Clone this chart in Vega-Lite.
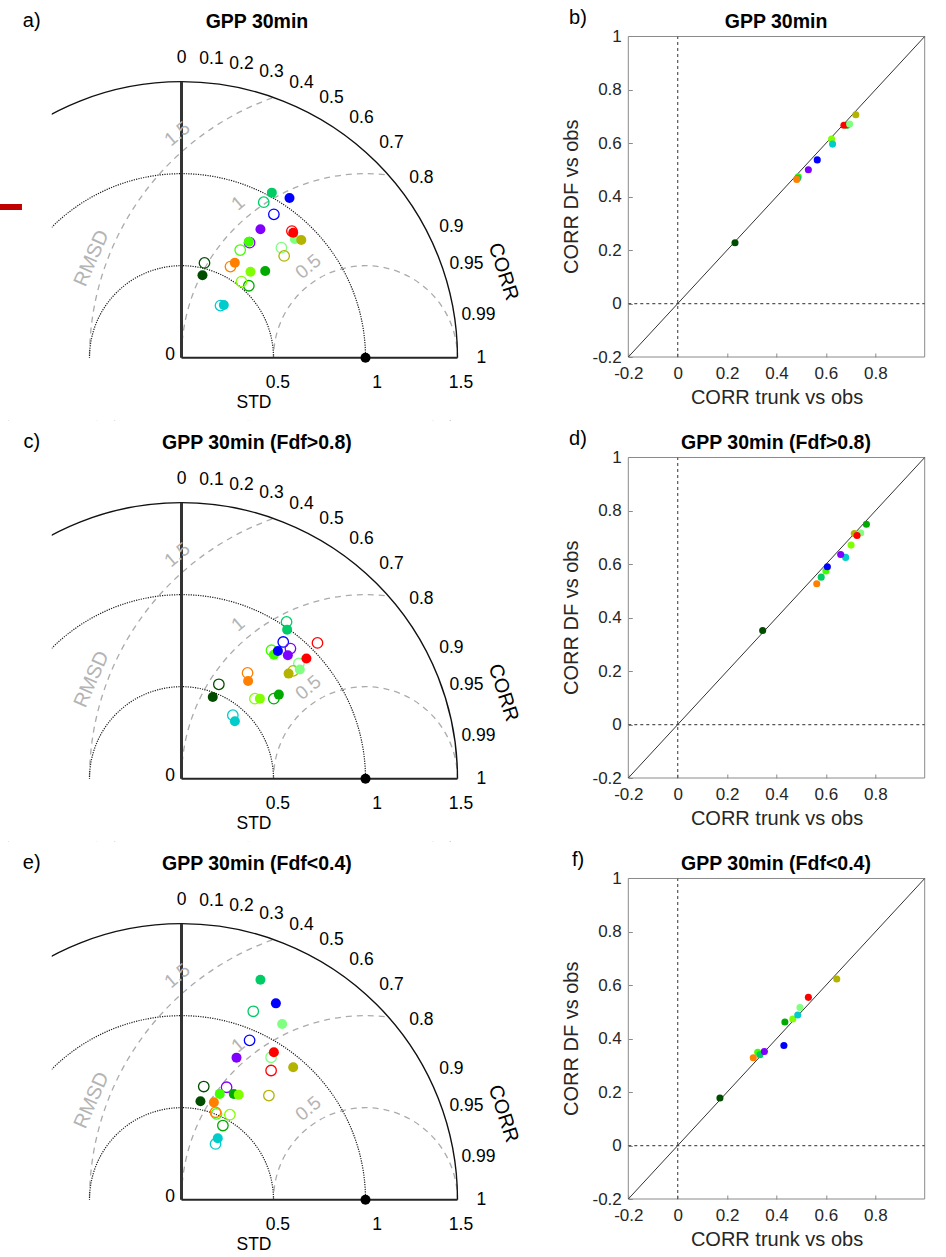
{
"$schema": "https://vega.github.io/schema/vega-lite/v6.json",
"padding": 0,
"bounds": "flush",
"align": "each",
"columns": 2,
"spacing": {"row": 0, "column": 68.3},
"datasets": {
"c_rmsd": [{"x":1,"y":0,"r":0.5},{"x":1,"y":0,"r":1},{"x":1,"y":0,"r":1.5}],
"c_ring": [{"x":0,"y":0,"r":2.1}],
"c_stddot": [{"x":0,"y":0,"r":0.5},{"x":0,"y":0,"r":1}],
"c_stdsolid": [{"x":0,"y":0,"r":1.5}],
"t_masks": [{"x":-1,"x2":2.1,"y":-0.4,"y2":0},{"x":-1,"x2":-0.705,"y":0,"y2":2}],
"t_vaxis": [{"x":0,"y":0,"y2":1.5}],
"t_haxis": [{"x":0,"x2":1.5,"y":0}],
"t_obs": [{"x":1,"y":0}],
"t_corr": [{"t":"0","x":0,"y":1.63},{"t":"0.1","x":0.163,"y":1.6218},{"t":"0.2","x":0.326,"y":1.5971},{"t":"0.3","x":0.489,"y":1.5549},{"t":"0.4","x":0.652,"y":1.4939},{"t":"0.5","x":0.815,"y":1.4116},{"t":"0.6","x":0.978,"y":1.304},{"t":"0.7","x":1.141,"y":1.1641},{"t":"0.8","x":1.304,"y":0.978},{"t":"0.9","x":1.467,"y":0.7105},{"t":"0.95","x":1.5485,"y":0.509},{"t":"0.99","x":1.6137,"y":0.2299},{"t":"1","x":1.63,"y":0}],
"t_std": [{"t":"0","x":-0.0625,"y":0.0147},{"t":"0.5","x":0.524,"y":-0.1375},{"t":"1","x":1.0625,"y":-0.1375},{"t":"1.5","x":1.519,"y":-0.1375},{"t":"STD","x":0.394,"y":-0.249}],
"t_corrtitle": [{"t":"CORR","x":1.749,"y":0.467}],
"t_rmsd": [{"t":"RMSD","x":-0.488,"y":0.54}],
"t_rmsdvals": [{"t":"1.5","x":-0.023,"y":1.216},{"t":"1","x":0.308,"y":0.839},{"t":"0.5","x":0.689,"y":0.495}],
"red": [{"x":-1,"x2":-0.867,"y":0.803,"y2":0.835}],
"s_frame": [{"x":-0.2,"x2":1,"y":-0.2,"y2":1}],
"s_vzero": [{"x":0,"y":-0.2,"y2":1}],
"s_hzero": [{"x":-0.2,"x2":1,"y":0}],
"s_diag": [{"x":-0.2,"x2":1,"y":-0.2,"y2":1}],
"s_ytitle": [{"t":"CORR DF vs obs","x":-0.428,"y":0.4}],
"pa": [
{"s":"S1","f":"open","x":0.125,"y":0.515},{"s":"S2","f":"open","x":0.366,"y":0.391},{"s":"S3","f":"open","x":0.326,"y":0.413},{"s":"S4","f":"open","x":0.319,"y":0.585},{"s":"S5","f":"open","x":0.543,"y":0.598},{"s":"S6","f":"open","x":0.447,"y":0.845},{"s":"S7","f":"open","x":0.212,"y":0.283},{"s":"S8","f":"open","x":0.502,"y":0.779},{"s":"S9","f":"open","x":0.370,"y":0.625},{"s":"S10","f":"open","x":0.600,"y":0.688},{"s":"S11","f":"open","x":0.266,"y":0.495},{"s":"S12","f":"open","x":0.558,"y":0.553},
{"s":"S1","f":"filled","x":0.114,"y":0.448},{"s":"S2","f":"filled","x":0.455,"y":0.471},{"s":"S3","f":"filled","x":0.375,"y":0.467},{"s":"S4","f":"filled","x":0.366,"y":0.630},{"s":"S5","f":"filled","x":0.616,"y":0.645},{"s":"S6","f":"filled","x":0.491,"y":0.897},{"s":"S7","f":"filled","x":0.230,"y":0.286},{"s":"S8","f":"filled","x":0.587,"y":0.868},{"s":"S9","f":"filled","x":0.429,"y":0.698},{"s":"S10","f":"filled","x":0.607,"y":0.679},{"s":"S11","f":"filled","x":0.290,"y":0.516},{"s":"S12","f":"filled","x":0.651,"y":0.640}],
"pc": [
{"s":"S1","f":"open","x":0.203,"y":0.513},{"s":"S2","f":"open","x":0.502,"y":0.435},{"s":"S3","f":"open","x":0.399,"y":0.435},{"s":"S4","f":"open","x":0.489,"y":0.698},{"s":"S5","f":"open","x":0.638,"y":0.626},{"s":"S6","f":"open","x":0.571,"y":0.852},{"s":"S7","f":"open","x":0.279,"y":0.345},{"s":"S8","f":"open","x":0.553,"y":0.743},{"s":"S9","f":"open","x":0.592,"y":0.707},{"s":"S10","f":"open","x":0.739,"y":0.738},{"s":"S11","f":"open","x":0.359,"y":0.575},{"s":"S12","f":"open","x":0.607,"y":0.586},
{"s":"S1","f":"filled","x":0.170,"y":0.444},{"s":"S2","f":"filled","x":0.529,"y":0.457},{"s":"S3","f":"filled","x":0.426,"y":0.435},{"s":"S4","f":"filled","x":0.502,"y":0.674},{"s":"S5","f":"filled","x":0.643,"y":0.593},{"s":"S6","f":"filled","x":0.574,"y":0.810},{"s":"S7","f":"filled","x":0.290,"y":0.312},{"s":"S8","f":"filled","x":0.524,"y":0.694},{"s":"S9","f":"filled","x":0.578,"y":0.671},{"s":"S10","f":"filled","x":0.679,"y":0.653},{"s":"S11","f":"filled","x":0.362,"y":0.531},{"s":"S12","f":"filled","x":0.582,"y":0.571}],
"pe": [
{"s":"S1","f":"open","x":0.121,"y":0.615},{"s":"S2","f":"open","x":0.225,"y":0.403},{"s":"S3","f":"open","x":0.263,"y":0.462},{"s":"S4","f":"open","x":0.190,"y":0.466},{"s":"S5","f":"open","x":0.487,"y":0.774},{"s":"S6","f":"open","x":0.390,"y":1.024},{"s":"S7","f":"open","x":0.185,"y":0.303},{"s":"S8","f":"open","x":0.370,"y":0.866},{"s":"S9","f":"open","x":0.245,"y":0.611},{"s":"S10","f":"open","x":0.487,"y":0.702},{"s":"S11","f":"open","x":0.185,"y":0.475},{"s":"S12","f":"open","x":0.475,"y":0.566},
{"s":"S1","f":"filled","x":0.103,"y":0.535},{"s":"S2","f":"filled","x":0.284,"y":0.575},{"s":"S3","f":"filled","x":0.311,"y":0.570},{"s":"S4","f":"filled","x":0.208,"y":0.575},{"s":"S5","f":"filled","x":0.547,"y":0.955},{"s":"S6","f":"filled","x":0.429,"y":1.195},{"s":"S7","f":"filled","x":0.197,"y":0.334},{"s":"S8","f":"filled","x":0.513,"y":1.067},{"s":"S9","f":"filled","x":0.299,"y":0.772},{"s":"S10","f":"filled","x":0.502,"y":0.801},{"s":"S11","f":"filled","x":0.176,"y":0.529},{"s":"S12","f":"filled","x":0.607,"y":0.720}],
"sb": [{"s":"S1","x":0.232,"y":0.228},{"s":"S2","x":0.685,"y":0.668},{"s":"S3","x":0.623,"y":0.616},{"s":"S4","x":0.488,"y":0.475},{"s":"S6","x":0.486,"y":0.47},{"s":"S7","x":0.627,"y":0.597},{"s":"S8","x":0.565,"y":0.538},{"s":"S9","x":0.529,"y":0.501},{"s":"S10","x":0.673,"y":0.668},{"s":"S5","x":0.696,"y":0.672},{"s":"S11","x":0.482,"y":0.465},{"s":"S12","x":0.721,"y":0.707}],
"sd": [{"s":"S1","x":0.344,"y":0.352},{"s":"S2","x":0.764,"y":0.750},{"s":"S3","x":0.702,"y":0.672},{"s":"S4","x":0.600,"y":0.575},{"s":"S5","x":0.741,"y":0.717},{"s":"S6","x":0.581,"y":0.552},{"s":"S7","x":0.680,"y":0.626},{"s":"S8","x":0.606,"y":0.591},{"s":"S9","x":0.660,"y":0.637},{"s":"S12","x":0.715,"y":0.715},{"s":"S10","x":0.726,"y":0.708},{"s":"S11","x":0.563,"y":0.527}],
"sf": [{"s":"S1","x":0.171,"y":0.178},{"s":"S2","x":0.434,"y":0.463},{"s":"S3","x":0.466,"y":0.474},{"s":"S4","x":0.324,"y":0.349},{"s":"S5","x":0.495,"y":0.517},{"s":"S6","x":0.333,"y":0.340},{"s":"S7","x":0.486,"y":0.489},{"s":"S8","x":0.430,"y":0.375},{"s":"S9","x":0.351,"y":0.352},{"s":"S10","x":0.529,"y":0.555},{"s":"S11","x":0.306,"y":0.329},{"s":"S12","x":0.644,"y":0.624}]
},
"concat": [
{
"width": 560, "height": 420.67,
"encoding": {
"x": {"field":"x","type":"quantitative","scale":{"domain":[-0.98641,2.05707],"nice":false,"zero":false},"axis":null},
"y": {"field":"y","type":"quantitative","scale":{"domain":[-0.34239,1.94402],"nice":false,"zero":false},"axis":null}
},
"layer": [
{"data":{"name":"c_rmsd"},"mark":{"type":"point","shape":"circle","filled":false,"stroke":"#ababab","strokeWidth":1.3,"strokeDash":[6,5],"opacity":1,"clip":true},"encoding":{"size":{"field":"r","type":"quantitative","scale":{"type":"pow","exponent":2,"domain":[0,3],"range":[0,1218816],"zero":true,"nice":false},"legend":null}}},
{"data":{"name":"c_ring"},"mark":{"type":"point","shape":"circle","filled":false,"stroke":"#ffffff","strokeWidth":220.8,"opacity":1,"clip":true},"encoding":{"size":{"field":"r","type":"quantitative","scale":{"type":"pow","exponent":2,"domain":[0,3],"range":[0,1218816],"zero":true,"nice":false},"legend":null}}},
{"data":{"name":"c_stddot"},"mark":{"type":"point","shape":"circle","filled":false,"stroke":"#1a1a1a","strokeWidth":1.2,"strokeDash":[1.2,1.2],"opacity":1,"clip":true},"encoding":{"size":{"field":"r","type":"quantitative","scale":{"type":"pow","exponent":2,"domain":[0,3],"range":[0,1218816],"zero":true,"nice":false},"legend":null}}},
{"data":{"name":"c_stdsolid"},"mark":{"type":"point","shape":"circle","filled":false,"stroke":"#111111","strokeWidth":1.4,"opacity":1,"clip":true},"encoding":{"size":{"field":"r","type":"quantitative","scale":{"type":"pow","exponent":2,"domain":[0,3],"range":[0,1218816],"zero":true,"nice":false},"legend":null}}},
{"data":{"name":"t_masks"},"mark":{"type":"rect","fill":"#ffffff","clip":true},"encoding":{"x2":{"field":"x2"},"y2":{"field":"y2"}}},
{"data":{"name":"t_vaxis"},"mark":{"type":"rule","stroke":"#333333","strokeWidth":3},"encoding":{"y2":{"field":"y2"}}},
{"data":{"name":"t_haxis"},"mark":{"type":"rule","stroke":"#262626","strokeWidth":2},"encoding":{"x2":{"field":"x2"}}},
{"data":{"name":"t_obs"},"mark":{"type":"point","shape":"circle","filled":true,"fill":"#000000","size":100,"opacity":1}},
{"data":{"name":"pa"},"transform":[{"filter":"datum.f == 'open'"}],"mark":{"type":"point","shape":"circle","filled":false,"strokeWidth":1.3,"size":110,"opacity":1},"encoding":{"color":{"field":"s","type":"nominal","scale":{"domain":["S1","S2","S3","S4","S5","S6","S7","S8","S9","S10","S11","S12"],"range":["#004d00","#00aa00","#80ff00","#40ff00","#80ff80","#00cc66","#00cccc","#0000ff","#8000ff","#ff0000","#ff8000","#b3b300"]},"legend":null}}},
{"data":{"name":"pa"},"transform":[{"filter":"datum.f == 'filled'"}],"mark":{"type":"point","shape":"circle","filled":true,"size":100,"opacity":1},"encoding":{"color":{"field":"s","type":"nominal","scale":{"domain":["S1","S2","S3","S4","S5","S6","S7","S8","S9","S10","S11","S12"],"range":["#004d00","#00aa00","#80ff00","#40ff00","#80ff80","#00cc66","#00cccc","#0000ff","#8000ff","#ff0000","#ff8000","#b3b300"]},"legend":null}}},
{"data":{"name":"t_corr"},"mark":{"type":"text","fontSize":17.5,"align":"center","baseline":"middle","color":"#000000"},"encoding":{"text":{"field":"t","type":"nominal"}}},
{"data":{"name":"t_std"},"mark":{"type":"text","fontSize":17.5,"align":"center","baseline":"middle","color":"#000000"},"encoding":{"text":{"field":"t","type":"nominal"}}},
{"data":{"name":"t_corrtitle"},"mark":{"type":"text","fontSize":20,"align":"center","baseline":"middle","angle":72,"color":"#000000"},"encoding":{"text":{"field":"t","type":"nominal"}}},
{"data":{"name":"t_rmsd"},"mark":{"type":"text","fontSize":20,"align":"center","baseline":"middle","angle":294,"color":"#b4b4b4"},"encoding":{"text":{"field":"t","type":"nominal"}}},
{"data":{"name":"t_rmsdvals"},"mark":{"type":"text","fontSize":19,"align":"center","baseline":"middle","angle":320,"color":"#b4b4b4"},"encoding":{"text":{"field":"t","type":"nominal"}}},
{"data":{"name":"red"},"mark":{"type":"rect","fill":"#c00000","clip":true},"encoding":{"x2":{"field":"x2"},"y2":{"field":"y2"}}},
{"data":{"values":[{"t":"GPP 30min","x":0.41,"y":1.8245}]},"mark":{"type":"text","fontSize":19.5,"fontWeight":"bold","align":"center","baseline":"middle","color":"#000000"},"encoding":{"text":{"field":"t","type":"nominal"}}},
{"data":{"values":[{"t":"a)","x":-0.814,"y":1.83}]},"mark":{"type":"text","fontSize":20,"align":"center","baseline":"middle","color":"#000000"},"encoding":{"text":{"field":"t","type":"nominal"}}}
]
},
{
"width": 296.4, "height": 357,
"encoding": {
"x": {"field":"x","type":"quantitative","scale":{"domain":[-0.2,1.0],"nice":false,"zero":false},"axis":{"values":[-0.2,0,0.2,0.4,0.6,0.8],"format":"~g","title":"CORR trunk vs obs","domain":false,"grid":false,"ticks":true,"tickSize":-4,"tickColor":"#8a8a8a","labelFlush":false,"labelOverlap":false,"labelFontSize":17,"labelColor":"#262626","labelPadding":12,"titleFontSize":20,"titleFontWeight":"normal","titleColor":"#262626","titlePadding":6}},
"y": {"field":"y","type":"quantitative","scale":{"domain":[-0.2,1.1366],"nice":false,"zero":false},"axis":{"values":[-0.2,0,0.2,0.4,0.6,0.8,1],"format":"~g","title":null,"domain":false,"grid":false,"ticks":true,"tickSize":-4,"tickColor":"#8a8a8a","labelFlush":false,"labelOverlap":false,"labelFontSize":17,"labelColor":"#262626","labelPadding":11}}
},
"layer": [
{"data":{"name":"s_frame"},"mark":{"type":"rect","fill":"transparent","fillOpacity":0,"stroke":"#8a8a8a","strokeWidth":1},"encoding":{"x2":{"field":"x2"},"y2":{"field":"y2"}}},
{"data":{"name":"s_vzero"},"mark":{"type":"rule","stroke":"#555555","strokeWidth":1.2,"strokeDash":[3,3]},"encoding":{"y2":{"field":"y2"}}},
{"data":{"name":"s_hzero"},"mark":{"type":"rule","stroke":"#555555","strokeWidth":1.2,"strokeDash":[3,3]},"encoding":{"x2":{"field":"x2"}}},
{"data":{"name":"s_diag"},"mark":{"type":"rule","stroke":"#333333","strokeWidth":1},"encoding":{"x2":{"field":"x2"},"y2":{"field":"y2"}}},
{"data":{"name":"sb"},"mark":{"type":"point","shape":"circle","filled":true,"size":50,"opacity":1},"encoding":{"color":{"field":"s","type":"nominal","scale":{"domain":["S1","S2","S3","S4","S5","S6","S7","S8","S9","S10","S11","S12"],"range":["#004d00","#00aa00","#80ff00","#40ff00","#80ff80","#00cc66","#00cccc","#0000ff","#8000ff","#ff0000","#ff8000","#b3b300"]},"legend":null}}},
{"data":{"name":"s_ytitle"},"mark":{"type":"text","fontSize":20,"align":"center","baseline":"middle","angle":270,"color":"#262626"},"encoding":{"text":{"field":"t","type":"nominal"}}},
{"data":{"values":[{"t":"GPP 30min","x":0.398,"y":1.0542}]},"mark":{"type":"text","fontSize":19.5,"fontWeight":"bold","align":"center","baseline":"middle","color":"#000000"},"encoding":{"text":{"field":"t","type":"nominal"}}},
{"data":{"values":[{"t":"b)","x":-0.4036,"y":1.0692}]},"mark":{"type":"text","fontSize":20,"align":"center","baseline":"middle","color":"#000000"},"encoding":{"text":{"field":"t","type":"nominal"}}}
]
},
{
"width": 560, "height": 420.67,
"encoding": {
"x": {"field":"x","type":"quantitative","scale":{"domain":[-0.98641,2.05707],"nice":false,"zero":false},"axis":null},
"y": {"field":"y","type":"quantitative","scale":{"domain":[-0.34239,1.94402],"nice":false,"zero":false},"axis":null}
},
"layer": [
{"data":{"name":"c_rmsd"},"mark":{"type":"point","shape":"circle","filled":false,"stroke":"#ababab","strokeWidth":1.3,"strokeDash":[6,5],"opacity":1,"clip":true},"encoding":{"size":{"field":"r","type":"quantitative","scale":{"type":"pow","exponent":2,"domain":[0,3],"range":[0,1218816],"zero":true,"nice":false},"legend":null}}},
{"data":{"name":"c_ring"},"mark":{"type":"point","shape":"circle","filled":false,"stroke":"#ffffff","strokeWidth":220.8,"opacity":1,"clip":true},"encoding":{"size":{"field":"r","type":"quantitative","scale":{"type":"pow","exponent":2,"domain":[0,3],"range":[0,1218816],"zero":true,"nice":false},"legend":null}}},
{"data":{"name":"c_stddot"},"mark":{"type":"point","shape":"circle","filled":false,"stroke":"#1a1a1a","strokeWidth":1.2,"strokeDash":[1.2,1.2],"opacity":1,"clip":true},"encoding":{"size":{"field":"r","type":"quantitative","scale":{"type":"pow","exponent":2,"domain":[0,3],"range":[0,1218816],"zero":true,"nice":false},"legend":null}}},
{"data":{"name":"c_stdsolid"},"mark":{"type":"point","shape":"circle","filled":false,"stroke":"#111111","strokeWidth":1.4,"opacity":1,"clip":true},"encoding":{"size":{"field":"r","type":"quantitative","scale":{"type":"pow","exponent":2,"domain":[0,3],"range":[0,1218816],"zero":true,"nice":false},"legend":null}}},
{"data":{"name":"t_masks"},"mark":{"type":"rect","fill":"#ffffff","clip":true},"encoding":{"x2":{"field":"x2"},"y2":{"field":"y2"}}},
{"data":{"name":"t_vaxis"},"mark":{"type":"rule","stroke":"#333333","strokeWidth":3},"encoding":{"y2":{"field":"y2"}}},
{"data":{"name":"t_haxis"},"mark":{"type":"rule","stroke":"#262626","strokeWidth":2},"encoding":{"x2":{"field":"x2"}}},
{"data":{"name":"t_obs"},"mark":{"type":"point","shape":"circle","filled":true,"fill":"#000000","size":100,"opacity":1}},
{"data":{"name":"pc"},"transform":[{"filter":"datum.f == 'open'"}],"mark":{"type":"point","shape":"circle","filled":false,"strokeWidth":1.3,"size":110,"opacity":1},"encoding":{"color":{"field":"s","type":"nominal","scale":{"domain":["S1","S2","S3","S4","S5","S6","S7","S8","S9","S10","S11","S12"],"range":["#004d00","#00aa00","#80ff00","#40ff00","#80ff80","#00cc66","#00cccc","#0000ff","#8000ff","#ff0000","#ff8000","#b3b300"]},"legend":null}}},
{"data":{"name":"pc"},"transform":[{"filter":"datum.f == 'filled'"}],"mark":{"type":"point","shape":"circle","filled":true,"size":100,"opacity":1},"encoding":{"color":{"field":"s","type":"nominal","scale":{"domain":["S1","S2","S3","S4","S5","S6","S7","S8","S9","S10","S11","S12"],"range":["#004d00","#00aa00","#80ff00","#40ff00","#80ff80","#00cc66","#00cccc","#0000ff","#8000ff","#ff0000","#ff8000","#b3b300"]},"legend":null}}},
{"data":{"name":"t_corr"},"mark":{"type":"text","fontSize":17.5,"align":"center","baseline":"middle","color":"#000000"},"encoding":{"text":{"field":"t","type":"nominal"}}},
{"data":{"name":"t_std"},"mark":{"type":"text","fontSize":17.5,"align":"center","baseline":"middle","color":"#000000"},"encoding":{"text":{"field":"t","type":"nominal"}}},
{"data":{"name":"t_corrtitle"},"mark":{"type":"text","fontSize":20,"align":"center","baseline":"middle","angle":72,"color":"#000000"},"encoding":{"text":{"field":"t","type":"nominal"}}},
{"data":{"name":"t_rmsd"},"mark":{"type":"text","fontSize":20,"align":"center","baseline":"middle","angle":294,"color":"#b4b4b4"},"encoding":{"text":{"field":"t","type":"nominal"}}},
{"data":{"name":"t_rmsdvals"},"mark":{"type":"text","fontSize":19,"align":"center","baseline":"middle","angle":320,"color":"#b4b4b4"},"encoding":{"text":{"field":"t","type":"nominal"}}},
{"data":{"values":[{"t":"GPP 30min (Fdf>0.8)","x":0.41,"y":1.8245}]},"mark":{"type":"text","fontSize":19.5,"fontWeight":"bold","align":"center","baseline":"middle","color":"#000000"},"encoding":{"text":{"field":"t","type":"nominal"}}},
{"data":{"values":[{"t":"c)","x":-0.814,"y":1.83}]},"mark":{"type":"text","fontSize":20,"align":"center","baseline":"middle","color":"#000000"},"encoding":{"text":{"field":"t","type":"nominal"}}}
]
},
{
"width": 296.4, "height": 357,
"encoding": {
"x": {"field":"x","type":"quantitative","scale":{"domain":[-0.2,1.0],"nice":false,"zero":false},"axis":{"values":[-0.2,0,0.2,0.4,0.6,0.8],"format":"~g","title":"CORR trunk vs obs","domain":false,"grid":false,"ticks":true,"tickSize":-4,"tickColor":"#8a8a8a","labelFlush":false,"labelOverlap":false,"labelFontSize":17,"labelColor":"#262626","labelPadding":12,"titleFontSize":20,"titleFontWeight":"normal","titleColor":"#262626","titlePadding":6}},
"y": {"field":"y","type":"quantitative","scale":{"domain":[-0.2,1.1366],"nice":false,"zero":false},"axis":{"values":[-0.2,0,0.2,0.4,0.6,0.8,1],"format":"~g","title":null,"domain":false,"grid":false,"ticks":true,"tickSize":-4,"tickColor":"#8a8a8a","labelFlush":false,"labelOverlap":false,"labelFontSize":17,"labelColor":"#262626","labelPadding":11}}
},
"layer": [
{"data":{"name":"s_frame"},"mark":{"type":"rect","fill":"transparent","fillOpacity":0,"stroke":"#8a8a8a","strokeWidth":1},"encoding":{"x2":{"field":"x2"},"y2":{"field":"y2"}}},
{"data":{"name":"s_vzero"},"mark":{"type":"rule","stroke":"#555555","strokeWidth":1.2,"strokeDash":[3,3]},"encoding":{"y2":{"field":"y2"}}},
{"data":{"name":"s_hzero"},"mark":{"type":"rule","stroke":"#555555","strokeWidth":1.2,"strokeDash":[3,3]},"encoding":{"x2":{"field":"x2"}}},
{"data":{"name":"s_diag"},"mark":{"type":"rule","stroke":"#333333","strokeWidth":1},"encoding":{"x2":{"field":"x2"},"y2":{"field":"y2"}}},
{"data":{"name":"sd"},"mark":{"type":"point","shape":"circle","filled":true,"size":50,"opacity":1},"encoding":{"color":{"field":"s","type":"nominal","scale":{"domain":["S1","S2","S3","S4","S5","S6","S7","S8","S9","S10","S11","S12"],"range":["#004d00","#00aa00","#80ff00","#40ff00","#80ff80","#00cc66","#00cccc","#0000ff","#8000ff","#ff0000","#ff8000","#b3b300"]},"legend":null}}},
{"data":{"name":"s_ytitle"},"mark":{"type":"text","fontSize":20,"align":"center","baseline":"middle","angle":270,"color":"#262626"},"encoding":{"text":{"field":"t","type":"nominal"}}},
{"data":{"values":[{"t":"GPP 30min (Fdf>0.8)","x":0.398,"y":1.0542}]},"mark":{"type":"text","fontSize":19.5,"fontWeight":"bold","align":"center","baseline":"middle","color":"#000000"},"encoding":{"text":{"field":"t","type":"nominal"}}},
{"data":{"values":[{"t":"d)","x":-0.4036,"y":1.0692}]},"mark":{"type":"text","fontSize":20,"align":"center","baseline":"middle","color":"#000000"},"encoding":{"text":{"field":"t","type":"nominal"}}}
]
},
{
"width": 560, "height": 420.67,
"encoding": {
"x": {"field":"x","type":"quantitative","scale":{"domain":[-0.98641,2.05707],"nice":false,"zero":false},"axis":null},
"y": {"field":"y","type":"quantitative","scale":{"domain":[-0.34239,1.94402],"nice":false,"zero":false},"axis":null}
},
"layer": [
{"data":{"name":"c_rmsd"},"mark":{"type":"point","shape":"circle","filled":false,"stroke":"#ababab","strokeWidth":1.3,"strokeDash":[6,5],"opacity":1,"clip":true},"encoding":{"size":{"field":"r","type":"quantitative","scale":{"type":"pow","exponent":2,"domain":[0,3],"range":[0,1218816],"zero":true,"nice":false},"legend":null}}},
{"data":{"name":"c_ring"},"mark":{"type":"point","shape":"circle","filled":false,"stroke":"#ffffff","strokeWidth":220.8,"opacity":1,"clip":true},"encoding":{"size":{"field":"r","type":"quantitative","scale":{"type":"pow","exponent":2,"domain":[0,3],"range":[0,1218816],"zero":true,"nice":false},"legend":null}}},
{"data":{"name":"c_stddot"},"mark":{"type":"point","shape":"circle","filled":false,"stroke":"#1a1a1a","strokeWidth":1.2,"strokeDash":[1.2,1.2],"opacity":1,"clip":true},"encoding":{"size":{"field":"r","type":"quantitative","scale":{"type":"pow","exponent":2,"domain":[0,3],"range":[0,1218816],"zero":true,"nice":false},"legend":null}}},
{"data":{"name":"c_stdsolid"},"mark":{"type":"point","shape":"circle","filled":false,"stroke":"#111111","strokeWidth":1.4,"opacity":1,"clip":true},"encoding":{"size":{"field":"r","type":"quantitative","scale":{"type":"pow","exponent":2,"domain":[0,3],"range":[0,1218816],"zero":true,"nice":false},"legend":null}}},
{"data":{"name":"t_masks"},"mark":{"type":"rect","fill":"#ffffff","clip":true},"encoding":{"x2":{"field":"x2"},"y2":{"field":"y2"}}},
{"data":{"name":"t_vaxis"},"mark":{"type":"rule","stroke":"#333333","strokeWidth":3},"encoding":{"y2":{"field":"y2"}}},
{"data":{"name":"t_haxis"},"mark":{"type":"rule","stroke":"#262626","strokeWidth":2},"encoding":{"x2":{"field":"x2"}}},
{"data":{"name":"t_obs"},"mark":{"type":"point","shape":"circle","filled":true,"fill":"#000000","size":100,"opacity":1}},
{"data":{"name":"pe"},"transform":[{"filter":"datum.f == 'open'"}],"mark":{"type":"point","shape":"circle","filled":false,"strokeWidth":1.3,"size":110,"opacity":1},"encoding":{"color":{"field":"s","type":"nominal","scale":{"domain":["S1","S2","S3","S4","S5","S6","S7","S8","S9","S10","S11","S12"],"range":["#004d00","#00aa00","#80ff00","#40ff00","#80ff80","#00cc66","#00cccc","#0000ff","#8000ff","#ff0000","#ff8000","#b3b300"]},"legend":null}}},
{"data":{"name":"pe"},"transform":[{"filter":"datum.f == 'filled'"}],"mark":{"type":"point","shape":"circle","filled":true,"size":100,"opacity":1},"encoding":{"color":{"field":"s","type":"nominal","scale":{"domain":["S1","S2","S3","S4","S5","S6","S7","S8","S9","S10","S11","S12"],"range":["#004d00","#00aa00","#80ff00","#40ff00","#80ff80","#00cc66","#00cccc","#0000ff","#8000ff","#ff0000","#ff8000","#b3b300"]},"legend":null}}},
{"data":{"name":"t_corr"},"mark":{"type":"text","fontSize":17.5,"align":"center","baseline":"middle","color":"#000000"},"encoding":{"text":{"field":"t","type":"nominal"}}},
{"data":{"name":"t_std"},"mark":{"type":"text","fontSize":17.5,"align":"center","baseline":"middle","color":"#000000"},"encoding":{"text":{"field":"t","type":"nominal"}}},
{"data":{"name":"t_corrtitle"},"mark":{"type":"text","fontSize":20,"align":"center","baseline":"middle","angle":72,"color":"#000000"},"encoding":{"text":{"field":"t","type":"nominal"}}},
{"data":{"name":"t_rmsd"},"mark":{"type":"text","fontSize":20,"align":"center","baseline":"middle","angle":294,"color":"#b4b4b4"},"encoding":{"text":{"field":"t","type":"nominal"}}},
{"data":{"name":"t_rmsdvals"},"mark":{"type":"text","fontSize":19,"align":"center","baseline":"middle","angle":320,"color":"#b4b4b4"},"encoding":{"text":{"field":"t","type":"nominal"}}},
{"data":{"values":[{"t":"GPP 30min (Fdf<0.4)","x":0.41,"y":1.8245}]},"mark":{"type":"text","fontSize":19.5,"fontWeight":"bold","align":"center","baseline":"middle","color":"#000000"},"encoding":{"text":{"field":"t","type":"nominal"}}},
{"data":{"values":[{"t":"e)","x":-0.814,"y":1.83}]},"mark":{"type":"text","fontSize":20,"align":"center","baseline":"middle","color":"#000000"},"encoding":{"text":{"field":"t","type":"nominal"}}}
]
},
{
"width": 296.4, "height": 357,
"encoding": {
"x": {"field":"x","type":"quantitative","scale":{"domain":[-0.2,1.0],"nice":false,"zero":false},"axis":{"values":[-0.2,0,0.2,0.4,0.6,0.8],"format":"~g","title":"CORR trunk vs obs","domain":false,"grid":false,"ticks":true,"tickSize":-4,"tickColor":"#8a8a8a","labelFlush":false,"labelOverlap":false,"labelFontSize":17,"labelColor":"#262626","labelPadding":12,"titleFontSize":20,"titleFontWeight":"normal","titleColor":"#262626","titlePadding":6}},
"y": {"field":"y","type":"quantitative","scale":{"domain":[-0.2,1.1366],"nice":false,"zero":false},"axis":{"values":[-0.2,0,0.2,0.4,0.6,0.8,1],"format":"~g","title":null,"domain":false,"grid":false,"ticks":true,"tickSize":-4,"tickColor":"#8a8a8a","labelFlush":false,"labelOverlap":false,"labelFontSize":17,"labelColor":"#262626","labelPadding":11}}
},
"layer": [
{"data":{"name":"s_frame"},"mark":{"type":"rect","fill":"transparent","fillOpacity":0,"stroke":"#8a8a8a","strokeWidth":1},"encoding":{"x2":{"field":"x2"},"y2":{"field":"y2"}}},
{"data":{"name":"s_vzero"},"mark":{"type":"rule","stroke":"#555555","strokeWidth":1.2,"strokeDash":[3,3]},"encoding":{"y2":{"field":"y2"}}},
{"data":{"name":"s_hzero"},"mark":{"type":"rule","stroke":"#555555","strokeWidth":1.2,"strokeDash":[3,3]},"encoding":{"x2":{"field":"x2"}}},
{"data":{"name":"s_diag"},"mark":{"type":"rule","stroke":"#333333","strokeWidth":1},"encoding":{"x2":{"field":"x2"},"y2":{"field":"y2"}}},
{"data":{"name":"sf"},"mark":{"type":"point","shape":"circle","filled":true,"size":50,"opacity":1},"encoding":{"color":{"field":"s","type":"nominal","scale":{"domain":["S1","S2","S3","S4","S5","S6","S7","S8","S9","S10","S11","S12"],"range":["#004d00","#00aa00","#80ff00","#40ff00","#80ff80","#00cc66","#00cccc","#0000ff","#8000ff","#ff0000","#ff8000","#b3b300"]},"legend":null}}},
{"data":{"name":"s_ytitle"},"mark":{"type":"text","fontSize":20,"align":"center","baseline":"middle","angle":270,"color":"#262626"},"encoding":{"text":{"field":"t","type":"nominal"}}},
{"data":{"values":[{"t":"GPP 30min (Fdf<0.4)","x":0.398,"y":1.0542}]},"mark":{"type":"text","fontSize":19.5,"fontWeight":"bold","align":"center","baseline":"middle","color":"#000000"},"encoding":{"text":{"field":"t","type":"nominal"}}},
{"data":{"values":[{"t":"f)","x":-0.4036,"y":1.0692}]},"mark":{"type":"text","fontSize":20,"align":"center","baseline":"middle","color":"#000000"},"encoding":{"text":{"field":"t","type":"nominal"}}}
]
}
],
"config": {
"view": {"stroke": null},
"font": "Liberation Sans",
"text": {"font": "Liberation Sans"},
"axis": {"labelFont": "Liberation Sans", "titleFont": "Liberation Sans"},
"locale": {"number": {"decimal": ".", "thousands": ",", "grouping": [3], "currency": ["$", ""], "minus": "-"}}
}
}
